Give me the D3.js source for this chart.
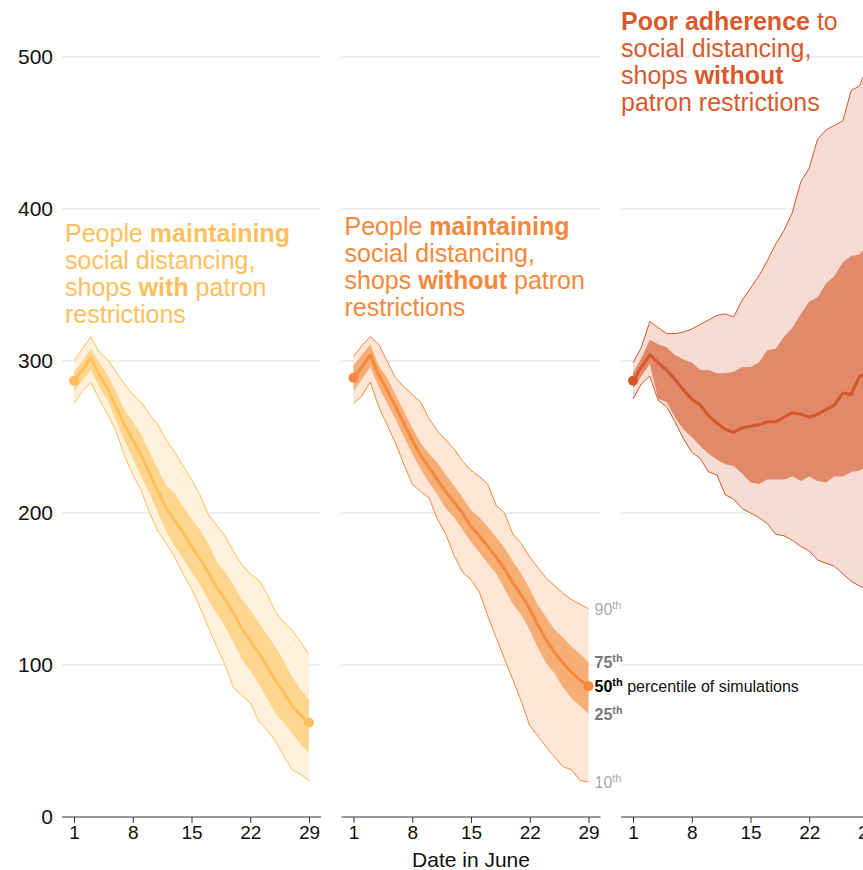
<!DOCTYPE html>
<html>
<head>
<meta charset="utf-8">
<script src="https://d3js.org/d3.v7.min.js"></script>
<style>
  body { margin: 0; background: #fff; }
  svg { font-family: "Liberation Sans", Arial, Helvetica, sans-serif; }
  .grid { stroke: #e0e0e0; stroke-width: 1px; }
  .axis line, .baseline { stroke: #333; stroke-width: 1px; }
  .axis text { font-size: 19px; fill: #111; }
  .yaxis text { font-size: 21px; fill: #111; }
</style>
</head>
<body>
<script>
// days of June
var days = [1,2,3,4,5,6,7,8,9,10,11,12,13,14,15,16,17,18,19,20,21,22,23,24,25,26,27,28,29];
var xTicks = [1, 8, 15, 22, 29];
var yTicks = [0, 100, 200, 300, 400, 500];

// people maintaining distancing, shops with restrictions
var withP10 = [272,280,286,275,265,254,238,225,215,200,188,180,171,160,150,138,125,112,100,85,80,75,63,57,50,40,31,28,24];
var withP25 = [280,287,294,283,274,261,248,236,224,213,200,188,178,170,161,153,143,134,125,115,104,96,88,78,68,62,55,48,42];
var withP50 = [287,294,302,291,282,270,258,248,238,226,214,203,195,187,178,170,161,151,143,134,124,116,108,99,90,82,73,67,62];
var withP75 = [293,300,308,299,291,280,268,260,252,240,229,218,213,204,196,189,180,168,161,153,143,136,128,120,112,103,92,84,77];
var withP90 = [300,308,316,306,301,293,285,278,273,265,258,248,240,231,222,212,199,192,185,175,166,160,156,147,135,128,123,115,107];

// people maintaining distancing, shops without restrictions
var noP10 = [272,277,286,270,258,246,232,219,214,210,196,186,172,161,156,148,132,118,104,90,76,60,53,46,39,33,31,24,23];
var noP25 = [280,288,296,283,272,262,250,239,229,220,212,203,197,189,181,174,167,160,150,140,133,123,111,101,94,85,78,73,68];
var noP50 = [289,296,304,291,281,270,259,248,238,230,222,214,207,200,191,185,178,171,163,154,146,137,126,116,108,101,95,90,86];
var noP75 = [297,304,311,297,289,278,267,256,246,239,233,225,218,210,202,197,191,184,177,168,160,150,139,131,123,118,112,107,102];
var noP90 = [303,310,316,311,300,289,283,278,273,262,254,248,242,234,228,224,219,205,200,186,180,171,164,157,152,147,143,140,137];

// poor adherence, shops without restrictions
var poorP10 = [275,285,290,274,270,260,249,240,236,227,225,212,209,203,200,197,193,186,185,182,178,175,169,167,165,160,155,152,149];
var poorP25 = [282,290,298,275,273,263,255,250,244,239,235,232,231,226,220,219,222,222,222,224,221,224,221,220,224,224,227,228,231];
var poorP50 = [287,296,304,299,294,288,281,275,271,264,259,255,253,256,257,258,260,260,263,266,265,263,265,268,271,279,278,290,292];
var poorP75 = [292,302,314,311,309,304,301,299,294,294,292,292,293,296,296,299,307,308,316,322,331,339,342,351,356,365,369,370,378];
var poorP90 = [299,309,326,322,318,318,319,321,324,327,330,331,329,340,348,356,366,377,386,398,418,427,446,452,455,458,478,481,495];

// annotation lines: [text, bold]
var withTitle = [[["People ", 0], ["maintaining", 1]], [["social distancing,", 0]], [["shops ", 0], ["with", 1], [" patron", 0]], [["restrictions", 0]]];
var noTitle = [[["People ", 0], ["maintaining", 1]], [["social distancing,", 0]], [["shops ", 0], ["without", 1], [" patron", 0]], [["restrictions", 0]]];
var poorTitle = [[["Poor adherence", 1], [" to", 0]], [["social distancing,", 0]], [["shops ", 0], ["without", 1]], [["patron restrictions", 0]]];

var percentileNames = ["90", "75", "50", "25", "10"];

var panels = [
  { p10: withP10, p25: withP25, p50: withP50, p75: withP75, p90: withP90, title: withTitle, titleY: 242, titleX: 3,
    line: "#fdbf5a", light: "#fff1db", dark: "#fed58d", text: "#fdc05c" },
  { p10: noP10, p25: noP25, p50: noP50, p75: noP75, p90: noP90, title: noTitle, titleY: 235, titleX: 3,
    line: "#f5883a", light: "#fde6d6", dark: "#f6ae74", text: "#f5883a", labels: true },
  { p10: poorP10, p25: poorP25, p50: poorP50, p75: poorP75, p90: poorP90, title: poorTitle, titleY: 30, titleX: 0,
    line: "#d6572b", light: "#f6dcd3", dark: "#e08a6a", text: "#d95a2d" }
];

var width = 863, height = 870;
var panelLeft = 62, panelWidth = 259, panelStep = 279.5;

var y = d3.scaleLinear().domain([0, 500]).range([817, 57]);

var svg = d3.select("body").append("svg")
  .attr("width", width)
  .attr("height", height);

// y axis labels only
svg.append("g")
  .attr("class", "yaxis")
  .attr("transform", "translate(" + panelLeft + ",0)")
  .call(d3.axisLeft(y).tickValues(yTicks).tickSize(0).tickPadding(9))
  .call(function(g) { g.select(".domain").remove(); });

panels.forEach(function(p, i) {
  var left = panelLeft + i * panelStep;
  var x = d3.scaleLinear().domain([1, 29]).range([left + 12, left + 247]);
  var g = svg.append("g");

  g.selectAll(".grid")
    .data(yTicks.slice(1))
    .enter().append("line")
    .attr("class", "grid")
    .attr("x1", left).attr("x2", left + panelWidth)
    .attr("y1", function(d) { return y(d); })
    .attr("y2", function(d) { return y(d); });

  function band(lo, hi) {
    return d3.area()
      .x(function(d) { return x(d); })
      .y0(function(d, j) { return y(lo[j]); })
      .y1(function(d, j) { return y(hi[j]); });
  }
  function curve(vals) {
    return d3.line()
      .x(function(d) { return x(d); })
      .y(function(d, j) { return y(vals[j]); });
  }

  g.append("path").datum(days).attr("d", band(p.p10, p.p90)).attr("fill", p.light);
  g.append("path").datum(days).attr("d", band(p.p25, p.p75)).attr("fill", p.dark);
  [p.p10, p.p90].forEach(function(vals) {
    g.append("path").datum(days).attr("d", curve(vals))
      .attr("fill", "none").attr("stroke", p.line).attr("stroke-width", 1);
  });
  g.append("path").datum(days).attr("d", curve(p.p50))
    .attr("fill", "none").attr("stroke", p.line).attr("stroke-width", 3)
    .attr("stroke-linejoin", "round");

  g.selectAll(".dot")
    .data([0, days.length - 1])
    .enter().append("circle")
    .attr("cx", function(j) { return x(days[j]); })
    .attr("cy", function(j) { return y(p.p50[j]); })
    .attr("r", 5)
    .attr("fill", p.line);

  // x axis
  g.append("line").attr("class", "baseline")
    .attr("x1", left).attr("x2", left + panelWidth)
    .attr("y1", y(0)).attr("y2", y(0));
  g.append("g")
    .attr("class", "axis")
    .attr("transform", "translate(0," + y(0) + ")")
    .call(d3.axisBottom(x).tickValues(xTicks).tickSize(6).tickSizeOuter(0).tickPadding(3))
    .call(function(a) { a.select(".domain").remove(); });

  // annotation
  var t = g.append("text")
    .attr("x", left + p.titleX)
    .attr("y", p.titleY)
    .attr("fill", p.text)
    .style("font-size", "25px");
  p.title.forEach(function(row, r) {
    row.forEach(function(seg, s) {
      var ts = t.append("tspan").text(seg[0]).style("font-weight", seg[1] ? "bold" : "normal");
      if (s === 0) ts.attr("x", left + p.titleX).attr("y", p.titleY + r * 27);
    });
  });

  // percentile key
  if (p.labels) {
    var last = days.length - 1;
    var ends = [p.p90[last], p.p75[last], p.p50[last], p.p25[last], p.p10[last]];
    var colors = ["#aaaaaa", "#777777", "#000000", "#777777", "#aaaaaa"];
    var weights = ["normal", "bold", "bold", "bold", "normal"];
    ends.forEach(function(v, k) {
      var lab = g.append("text")
        .attr("x", x(29) + 6)
        .attr("y", y(v) + 6)
        .attr("fill", colors[k])
        .style("font-size", "16px")
        .style("font-weight", weights[k]);
      lab.append("tspan").text(percentileNames[k]);
      lab.append("tspan").text("th").style("font-size", "11px").attr("dy", -6);
      if (k === 2) {
        lab.append("tspan").text(" percentile of simulations")
          .attr("dy", 6)
          .style("font-size", "16px").style("font-weight", "normal").attr("fill", "#111");
      }
    });
  }
});

svg.append("text")
  .attr("x", panelLeft + panelStep + panelWidth / 2)
  .attr("y", 867)
  .attr("text-anchor", "middle")
  .style("font-size", "21px")
  .attr("fill", "#111")
  .text("Date in June");
</script>
</body>
</html>
